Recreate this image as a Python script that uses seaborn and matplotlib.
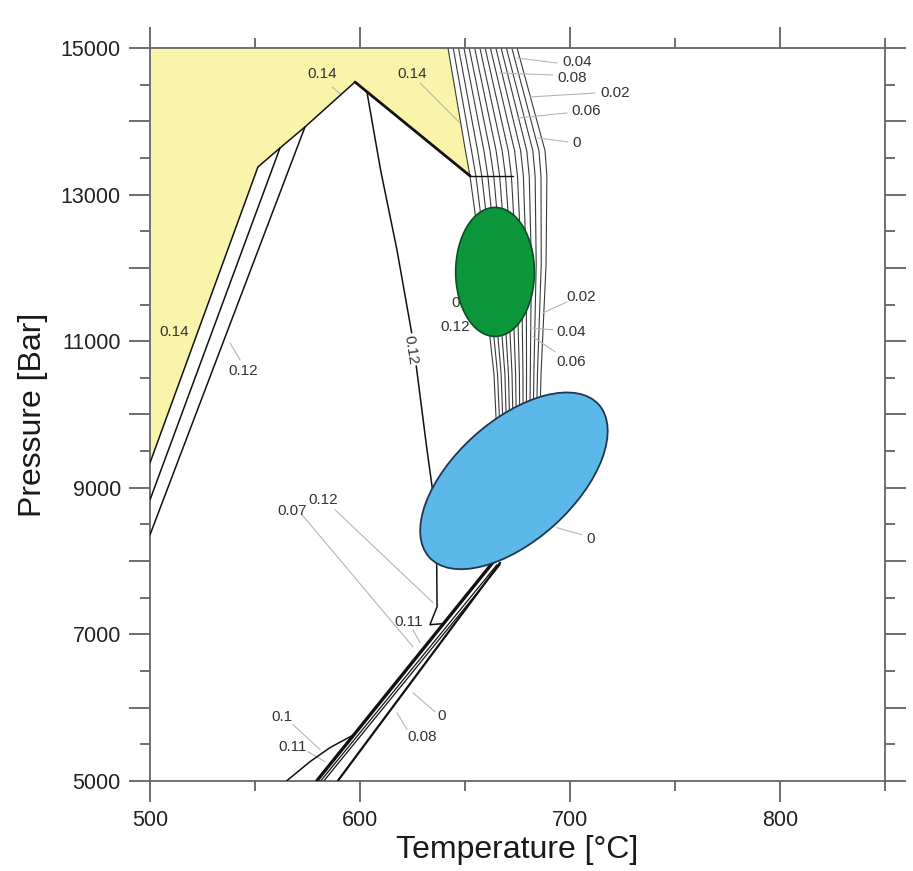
import numpy as np
import pandas as pd
import matplotlib
matplotlib.use("Agg")
import matplotlib.pyplot as plt
import seaborn as sns
from matplotlib.patches import Ellipse, Polygon
from matplotlib.transforms import Affine2D
from matplotlib.ticker import MultipleLocator, FuncFormatter

# ---------------- data ----------------
# isopleth bundle (temperature at given pressures), 14 lines
bundle_P = [15000, 13600, 13250, 12050, 10550, 9400]
bundle_T = [
    [641.9, 650.2, 652.4, 658.1, 663.8, 665.7],
    [644.4, 653.1, 655.2, 660.4, 665.5, 667.2],
    [646.9, 656.0, 658.0, 662.8, 667.2, 668.7],
    [649.5, 659.0, 660.9, 665.1, 669.0, 670.2],
    [652.0, 661.9, 663.7, 667.5, 670.7, 671.7],
    [654.6, 664.8, 666.5, 669.8, 672.4, 673.2],
    [657.1, 667.7, 669.3, 672.2, 674.1, 674.7],
    [659.6, 670.6, 672.1, 674.5, 675.9, 676.2],
    [662.1, 673.6, 675.0, 676.9, 677.6, 677.7],
    [664.7, 676.5, 677.8, 679.2, 679.3, 679.2],
    [667.2, 679.4, 680.6, 681.6, 681.1, 680.7],
    [669.7, 682.3, 683.4, 683.9, 682.8, 682.2],
    [672.3, 685.2, 686.2, 686.3, 684.5, 683.7],
    [674.8, 688.1, 689.0, 688.6, 686.2, 685.2],
]

# yellow field outline
yellow_T = [500, 641.9, 652.4, 597.6, 573.8, 561.9, 551.4, 500]
yellow_P = [15000, 15000, 13255, 14536, 13923, 13636, 13377, 9341]

# boundary lines
lineA_T = [500, 551.4, 561.9, 573.8, 597.6]
lineA_P = [9341, 13377, 13636, 13923, 14536]
lineB_T = [500, 561.9]
lineB_P = [8836, 13636]
lineC_T = [500, 573.8]
lineC_P = [8359, 13923]
peak_T = [597.6, 652.4, 672.9]
peak_P = [14536, 13255, 13255]
curve12_T = [603.3, 609.8, 617.6, 625.2, 631.9, 635.2, 636.5, 636.7, 633.3, 639.0]
curve12_P = [14400, 13336, 12245, 11018, 9518, 8837, 8018, 7377, 7132, 7146]
L1_T = [664.3, 579.5]
L1_P = [8018, 5005]
pair1_T = [665.2, 581.4]
pair1_P = [7950, 5005]
pair2_T = [666.7, 582.9]
pair2_P = [7950, 5005]
L2_T = [666.7, 589.5]
L2_P = [7977, 5005]
curve10_T = [565.2, 576.2, 585.7, 597.1]
curve10_P = [5005, 5264, 5455, 5632]

# ellipses: (T centre, P centre, width in degC, height)
green_ell = (664.3, 11945, 37.5, 1760)
blue_ell = (673.3, 9095, 108.6, 57.1, 42)   # width/height in degC-equivalent, angle deg

# labels: text, T, P, leader (T0, P0, T1, P1) or None
labels = [
    ("0.14", 581.9, 14645, (586.7, 14468, 591.4, 14359)),
    ("0.14", 624.8, 14645, (628.6, 14523, 647.6, 13977)),
    ("0.04", 703.3, 14809, (674.8, 14864, 693.8, 14795)),
    ("0.08", 701.0, 14591, (666.7, 14659, 691.9, 14632)),
    ("0.02", 721.4, 14386, (681.0, 14332, 711.9, 14386)),
    ("0.06", 707.6, 14141, (674.8, 14045, 698.6, 14114)),
    ("0", 703.3, 13705, (684.8, 13773, 699.0, 13718)),
    ("0.02", 705.2, 11605, (687.1, 11386, 698.6, 11536)),
    ("0.04", 700.5, 11127, (681.0, 11182, 691.9, 11155)),
    ("0.06", 700.5, 10718, (682.4, 11059, 692.9, 10855)),
    ("0.12", 645.2, 11195, None),
    ("0.14", 511.4, 11127, None),
    ("0.12", 544.3, 10595, (538.1, 10977, 542.9, 10745)),
    ("0", 710.0, 8305, (693.8, 8455, 705.7, 8359)),
    ("0.07", 567.6, 8686, (572.4, 8632, 625.2, 6832)),
    ("0.12", 582.4, 8836, (588.1, 8700, 634.8, 7432)),
    ("0.11", 623.3, 7173, (625.2, 7064, 628.6, 6886)),
    ("0.1", 562.9, 5877, (568.1, 5768, 581.0, 5427)),
    ("0.11", 568.1, 5468, (575.2, 5400, 583.3, 5264)),
    ("0", 639.0, 5891, (635.7, 5945, 625.2, 6205)),
    ("0.08", 629.5, 5605, (622.4, 5700, 617.6, 5932)),
]
hidden_label = ("0.1", 648.5, 11523)
curve_label = ("0.12", 624.3, 10882)

x_major = [500, 600, 700, 800]
y_labels = [5000, 7000, 9000, 11000, 13000, 15000]

# ---------------- plotting ----------------
sns.set_theme(style="white")
plt.rcParams["font.family"] = ["Liberation Sans", "DejaVu Sans"]

fig = plt.figure(figsize=(9.13, 8.71), dpi=100)
ax = fig.add_axes([150 / 913, 90 / 871, 735 / 913, 733 / 871])
ax.set_xlim(500, 850)
ax.set_ylim(5000, 15000)

ax.add_patch(Polygon(list(zip(yellow_T, yellow_P)), closed=True,
                     facecolor="#FAF3AA", edgecolor="none", zorder=1))

rows = []
for i, ts in enumerate(bundle_T):
    for t, p in zip(ts, bundle_P):
        rows.append({"T": t, "P": p, "line": i})
bdf = pd.DataFrame(rows)
sns.lineplot(data=bdf, x="T", y="P", units="line", estimator=None, sort=False,
             color="#3a3a3a", linewidth=0.8, ax=ax, zorder=2, legend=False)


def seg(T, P, lw, color="#111111", z=3):
    d = pd.DataFrame({"T": T, "P": P})
    sns.lineplot(data=d, x="T", y="P", sort=False, estimator=None,
                 color=color, linewidth=lw, ax=ax, zorder=z)


seg(lineA_T, lineA_P, 1.1)
seg(lineB_T, lineB_P, 1.1)
seg(lineC_T, lineC_P, 1.1)
seg(peak_T[:2], peak_P[:2], 2.0)
seg(peak_T[1:], peak_P[1:], 1.0)
seg(curve12_T, curve12_P, 1.1)
seg(L1_T, L1_P, 2.4)
seg(pair1_T, pair1_P, 0.9)
seg(pair2_T, pair2_P, 0.9)
seg(L2_T, L2_P, 1.6)
seg(curve10_T, curve10_P, 1.1)

# leader lines & labels
for txt, t, p, lead in labels:
    if lead is not None:
        ax.plot([lead[0], lead[2]], [lead[1], lead[3]], color="#b5b5b5",
                linewidth=0.8, zorder=2.5)
    ax.text(t, p, txt, fontsize=11, color="#333333", ha="center", va="center", zorder=6)

ax.text(hidden_label[1], hidden_label[2], hidden_label[0], fontsize=11,
        color="#333333", ha="center", va="center", zorder=3.5)
ax.text(curve_label[1], curve_label[2], curve_label[0], fontsize=11, color="#333333",
        ha="center", va="center", rotation=-81, zorder=6,
        bbox=dict(facecolor="white", edgecolor="none", pad=1.0))

# ellipses
ax.add_patch(Ellipse((green_ell[0], green_ell[1]), green_ell[2], green_ell[3],
                     facecolor="#0B963C", edgecolor="#0c4d22", linewidth=1.2, zorder=4))
sx = ax.transData.transform((1, 0))[0] - ax.transData.transform((0, 0))[0]
sy = ax.transData.transform((0, 1))[1] - ax.transData.transform((0, 0))[1]
ratio = sx / sy
tr = Affine2D().scale(1, ratio) + ax.transData
ax.add_patch(Ellipse((blue_ell[0], blue_ell[1] / ratio), blue_ell[2], blue_ell[3],
                     angle=blue_ell[4], transform=tr,
                     facecolor="#5DB8EA", edgecolor="#1f3650", linewidth=1.3, zorder=5))

# axes styling
ax.xaxis.set_major_locator(MultipleLocator(100))
ax.xaxis.set_minor_locator(MultipleLocator(50))
ax.yaxis.set_major_locator(MultipleLocator(1000))
ax.yaxis.set_minor_locator(MultipleLocator(500))
ax.xaxis.set_major_formatter(FuncFormatter(lambda v, _: f"{int(round(v))}" if int(round(v)) in x_major else ""))
ax.yaxis.set_major_formatter(FuncFormatter(lambda v, _: f"{int(round(v))}" if int(round(v)) in y_labels else ""))
ax.tick_params(which="both", direction="out", top=True, right=True, bottom=True, left=True,
               labeltop=False, labelright=False, color="#555555", width=1.2)
ax.tick_params(which="major", length=15, pad=6, labelsize=15.5, labelcolor="#222222")
ax.tick_params(which="minor", length=7)
for s in ax.spines.values():
    s.set_color("#666666")
    s.set_linewidth(1.3)

ax.set_xlabel("Temperature [°C]", fontsize=23, color="#1a1a1a", labelpad=3)
ax.set_ylabel("Pressure [Bar]", fontsize=23, color="#1a1a1a", labelpad=9)

fig.savefig("out.png", dpi=100)
